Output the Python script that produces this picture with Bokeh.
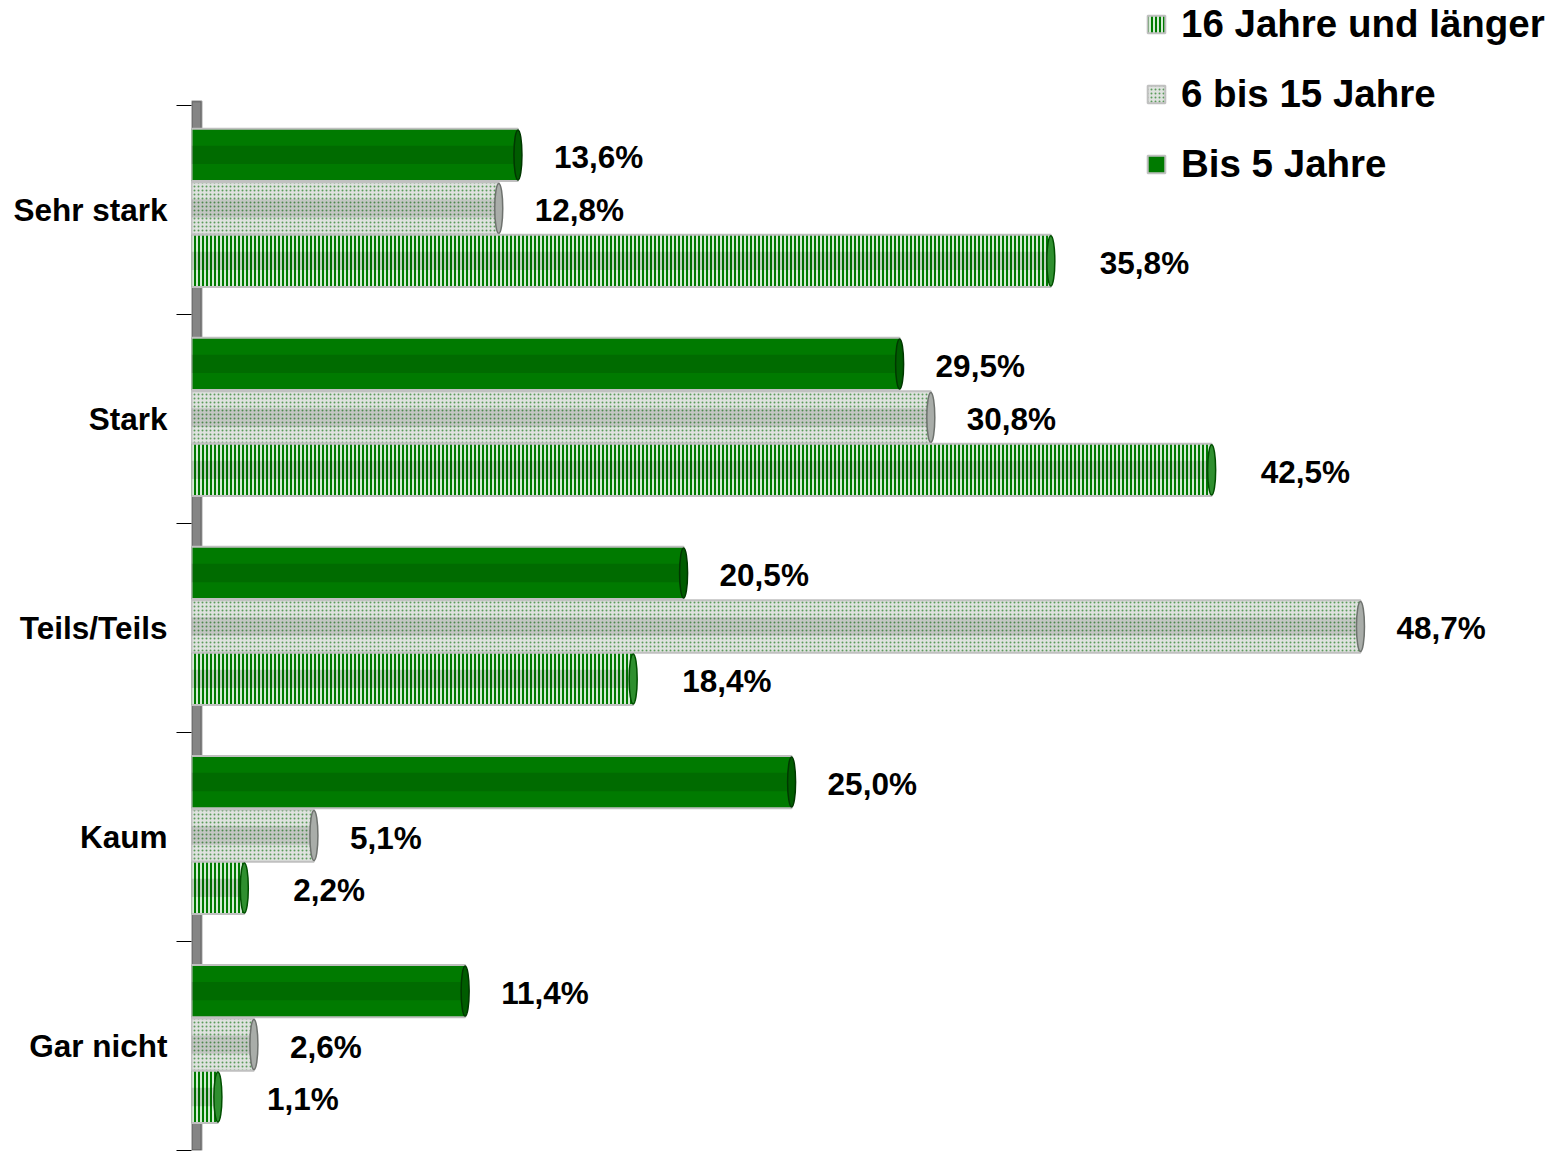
from bokeh.plotting import figure
from bokeh.models import (ColumnDataSource, Range1d, LinearAxis,
                          FixedTicker, Legend, LegendItem, BoxAnnotation)
from bokeh.core.properties import value
from bokeh.embed import file_html
from bokeh.resources import INLINE

categories = ["Sehr stark", "Stark", "Teils/Teils", "Kaum", "Gar nicht"]
bis5 = [13.6, 29.5, 20.5, 25.0, 11.4]
bis15 = [12.8, 30.8, 48.7, 5.1, 2.6]
ab16 = [35.8, 42.5, 18.4, 2.2, 1.1]
series_names = ["Bis 5 Jahre", "6 bis 15 Jahre", "16 Jahre und länger"]

FONT = "Liberation Sans"
n = len(categories)
centers = [n - 0.5 - i for i in range(n)]


def fmt(v):
    return f"{v:.1f}".replace(".", ",") + "%"


def src(vals, off):
    return ColumnDataSource(dict(y=[c + off for c in centers], val=vals,
                                 lab=[fmt(v) for v in vals]))


p = figure(width=1564, height=1153, output_backend="svg", toolbar_location=None,
           y_range=Range1d(0, n + 0.502), x_range=Range1d(0, 57.2),
           x_axis_location=None, y_axis_location=None,
           min_border_left=191, min_border_right=0, min_border_top=0, min_border_bottom=3)
p.outline_line_color = None
p.grid.visible = False
p.background_fill_color = "white"

# 3D wall (acts as the axis line)
p.add_layout(BoxAnnotation(left=0, right=0.42, bottom=0, top=n + 0.02,
                           fill_color="#858585", fill_alpha=1,
                           line_color="black", line_width=2, level="underlay"))

cat_axis = LinearAxis(ticker=FixedTicker(ticks=centers, minor_ticks=list(range(n + 1))),
                      major_label_overrides={c: cat for c, cat in zip(centers, categories)},
                      axis_line_color=None, major_tick_line_color=None,
                      major_tick_out=0, major_tick_in=0,
                      minor_tick_line_color="black", minor_tick_out=15, minor_tick_in=0,
                      minor_tick_line_width=1,
                      major_label_text_font=FONT, major_label_text_font_style="bold",
                      major_label_text_font_size="31.5px", major_label_text_color="black",
                      major_label_standoff=9)
p.add_layout(cat_axis, "left")

H = 0.25
specs = [
    (bis5, 0.263, 36, dict(fill_color="#007a00", line_color="#c0c0c0", line_width=2),
     ("#005c00", "#003800")),
    (bis15, 0.007, 36, dict(fill_color="#dfe2df", line_color="#c0c0c0", line_width=2,
                            hatch_pattern="dot", hatch_color="#3a8a3a", hatch_scale=4,
                            hatch_weight=1, hatch_alpha=0.8),
     ("#a9ada9", "#6e726e")),
    (ab16, -0.244, 49, dict(fill_color="#d6ecd6", line_color="#c0c0c0", line_width=2,
                            hatch_pattern="vertical_line", hatch_color="#007a00",
                            hatch_scale=4, hatch_weight=2),
     ("#2f8f2f", "#004f00")),
]
renderers = []
for vals, off, xoff, style, cap in specs:
    s = src(vals, off)
    r = p.hbar(y="y", left=0, right="val", height=H, source=s, **style)
    renderers.append(r)
    # darker lower band for a cylindrical look
    p.hbar(y="y", left=0, right="val", height=H * 0.35, source=s,
           fill_color="black", fill_alpha=0.12, line_color=None)
    # end cap of the cylinder
    p.ellipse(x="val", y="y", width=8, height=H * 0.96, width_units="screen",
              height_units="data", source=s, fill_color=cap[0], line_color=cap[1],
              line_width=1.5)
    p.text(x="val", y="y", text="lab", source=s, y_offset=2,
           x_offset=xoff, text_baseline="middle", text_align="left",
           text_font=value(FONT), text_font_style="bold", text_font_size="31.5px",
           text_color="black")

legend = Legend(items=[LegendItem(label=series_names[2], renderers=[renderers[2]]),
                       LegendItem(label=series_names[1], renderers=[renderers[1]]),
                       LegendItem(label=series_names[0], renderers=[renderers[0]])],
                location=(954, 964), orientation="vertical",
                label_text_font=FONT, label_text_font_style="bold",
                label_text_font_size="38.5px", label_text_color="black",
                glyph_width=22, glyph_height=22, label_standoff=14,
                spacing=26, padding=0, margin=0,
                border_line_color=None, background_fill_alpha=0)
p.add_layout(legend, "center")

open("out.html", "w").write(file_html(p, INLINE))
